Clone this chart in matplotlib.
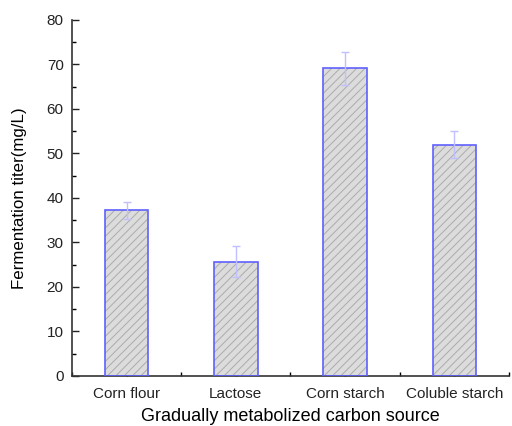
import numpy as np
import matplotlib.pyplot as plt
from matplotlib.ticker import MultipleLocator

plt.rcParams['font.family'] = ['Liberation Sans', 'DejaVu Sans']
plt.rcParams['hatch.linewidth'] = 0.7

sources = ['Corn flour', 'Lactose', 'Corn starch', 'Coluble starch']
titer = [37.2, 25.7, 69.2, 52.0]
err = [1.9, 3.5, 3.7, 3.0]

fig = plt.figure(figsize=(5.12, 4.26), dpi=100)
ax = fig.add_axes([0.1406, 0.1174, 0.8535, 0.8357])

x = np.arange(len(sources))
# hatched gray fill, then blue outline on top
ax.bar(x, titer, width=0.4, color='#dcdcdc', edgecolor='#ababab',
       hatch='////', linewidth=0, zorder=2)
ax.bar(x, titer, width=0.4, facecolor='none', edgecolor='#6060ff',
       linewidth=1.2, zorder=3)
ax.errorbar(x, titer, yerr=err, fmt='none', ecolor='#c0c0ff',
            elinewidth=1, capsize=3, capthick=1, zorder=4)

ax.set_xlim(-0.5, 3.46)
ax.set_ylim(0, 80)
ax.set_xticks(x)
ax.set_xticklabels(sources)
ax.set_xticks(np.arange(-0.5, 3.6, 1), minor=True)
ax.yaxis.set_major_locator(MultipleLocator(10))
ax.yaxis.set_minor_locator(MultipleLocator(5))
ax.tick_params(axis='both', which='major', direction='in', length=5,
               width=1, labelsize=11, colors='#222222')
ax.tick_params(axis='both', which='minor', direction='in', length=3, width=1)
ax.tick_params(axis='x', which='major', pad=8)
ax.tick_params(axis='y', which='major', pad=6)

for s in ['top', 'right']:
    ax.spines[s].set_visible(False)
for s in ['left', 'bottom']:
    ax.spines[s].set_linewidth(1.2)
    ax.spines[s].set_color('#333333')

ax.set_xlabel('Gradually metabolized carbon source', fontsize=13, labelpad=5)
ax.set_ylabel('Fermentation titer(mg/L)', fontsize=12.2, labelpad=14)

fig.savefig('out.png', dpi=100)
